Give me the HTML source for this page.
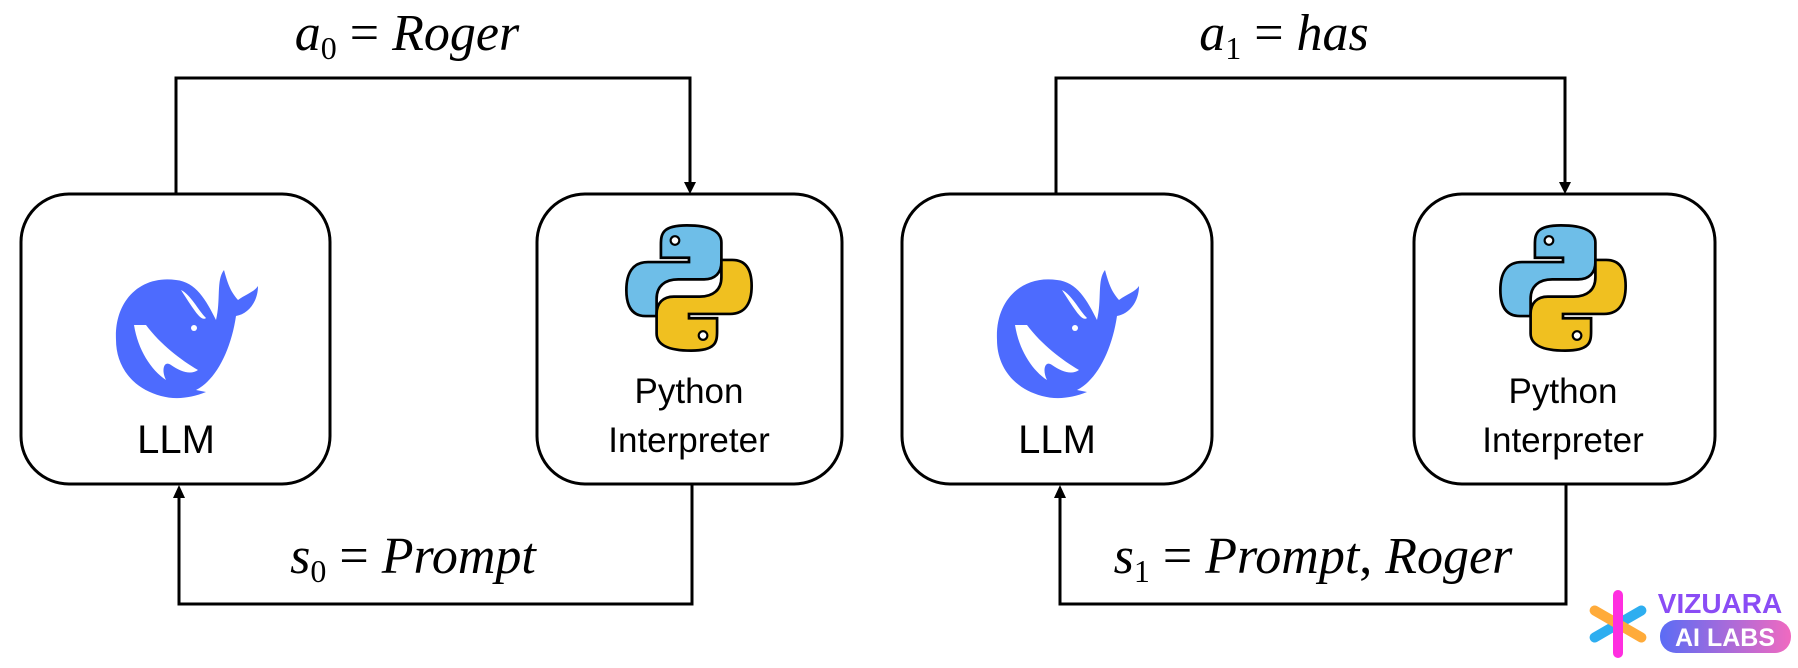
<!DOCTYPE html>
<html><head><meta charset="utf-8"><style>
html,body{margin:0;padding:0;background:#fff;width:1798px;height:668px;overflow:hidden}
</style></head><body>
<svg width="1798" height="668" viewBox="0 0 1798 668" xmlns="http://www.w3.org/2000/svg">
<defs>
<linearGradient id="pill" x1="0" x2="1"><stop offset="0" stop-color="#5b6cf5"/><stop offset="1" stop-color="#f06ac0"/></linearGradient>
<g id="whale">
<path d="M-60,10 C-62,-30 -35,-55 0,-50 C20,-48 30,-30 40,-10 C45,-30 40,-50 48,-60 C52,-45 55,-38 62,-30 C70,-36 78,-38 82,-44 C82,-28 72,-16 60,-14 C55,20 40,50 20,60 L30,62 C15,68 0,70 -15,66 C-45,58 -60,35 -60,10 Z" fill="#4d6bfe"/>
<path d="M-42,-5 C-38,20 -25,40 -10,50 C-15,40 -12,30 -5,35 C5,42 15,45 22,40 C5,30 -15,15 -30,-5 Z" fill="#fff"/>
<path d="M5,-40 C15,-35 22,-20 30,-12 C25,-8 18,-20 5,-40 Z" fill="#fff"/>
<circle cx="18" cy="-2" r="3" fill="#fff"/>
</g>
<g id="py">
<path d="M-2,-58 C-25,-58 -26,-50 -26,-40 L-26,-28 L0,-28 L0,-24 L-38,-24 C-52,-24 -58,-14 -58,2 C-58,18 -52,26 -40,26 L-30,26 L-30,10 C-30,-2 -22,-8 -10,-8 L14,-8 C24,-8 30,-14 30,-24 L30,-42 C30,-52 20,-58 -2,-58 Z" fill="#6ebee8" stroke="#000" stroke-width="2.5"/>
<path d="M2,58 C25,58 26,50 26,40 L26,28 L0,28 L0,24 L38,24 C52,24 58,14 58,-2 C58,-18 52,-26 40,-26 L30,-26 L30,-10 C30,2 22,8 10,8 L-14,8 C-24,8 -30,14 -30,24 L-30,42 C-30,52 -20,58 2,58 Z" fill="#f0c020" stroke="#000" stroke-width="2.5"/>
<circle cx="-13" cy="-44" r="4" fill="#fff" stroke="#000" stroke-width="2"/>
<circle cx="13" cy="44" r="4" fill="#fff" stroke="#000" stroke-width="2"/>
</g>
</defs>
<g fill="none" stroke="#000" stroke-width="3">
<rect x="21" y="194" width="309" height="290" rx="48"/>
<rect x="537" y="194" width="305" height="290" rx="48"/>
<rect x="902" y="194" width="310" height="290" rx="48"/>
<rect x="1414" y="194" width="301" height="290" rx="48"/>
<polyline points="176,194 176,78 690,78 690,184"/>
<polyline points="692,484 692,604 179,604 179,496"/>
<polyline points="1056,194 1056,78 1565,78 1565,184"/>
<polyline points="1566,484 1566,604 1060,604 1060,496"/>
</g>
<g fill="#000">
<polygon points="684,182 696,182 690,194"/>
<polygon points="1559,182 1571,182 1565,194"/>
<polygon points="173,498 185,498 179,485"/>
<polygon points="1054,498 1066,498 1060,485"/>
</g>
<use href="#whale" x="176" y="330"/>
<use href="#whale" x="1057" y="330"/>
<g transform="translate(689,288) scale(1.08)"><use href="#py"/></g>
<g transform="translate(1563,288) scale(1.08)"><use href="#py"/></g>
<g font-family="Liberation Sans, sans-serif" font-size="40" text-anchor="middle" fill="#000">
<text x="176" y="453">LLM</text>
<text x="1057" y="453">LLM</text>
<text x="689" y="403" font-size="35">Python</text>
<text x="689" y="452" font-size="35">Interpreter</text>
<text x="1563" y="403" font-size="35">Python</text>
<text x="1563" y="452" font-size="35">Interpreter</text>
</g>
<g font-family="Liberation Serif, serif" font-size="52" font-style="italic" text-anchor="middle" fill="#000">
<text x="407" y="50">a<tspan font-style="normal" font-size="32" dy="9">0</tspan><tspan font-style="normal" dy="-9"> = </tspan>Roger</text>
<text x="413" y="573">s<tspan font-style="normal" font-size="32" dy="9">0</tspan><tspan font-style="normal" dy="-9"> = </tspan>Prompt</text>
<text x="1284" y="50">a<tspan font-style="normal" font-size="32" dy="9">1</tspan><tspan font-style="normal" dy="-9"> = </tspan>has</text>
<text x="1313" y="573">s<tspan font-style="normal" font-size="32" dy="9">1</tspan><tspan font-style="normal" dy="-9"> = </tspan>Prompt<tspan font-style="normal">, </tspan>Roger</text>
</g>
<g transform="translate(1618,624)">
<rect x="-5" y="-32" width="10" height="64" rx="5" fill="#2eaef0" transform="rotate(60)"/>
<rect x="-5" y="-32" width="10" height="64" rx="5" fill="#ffab3a" transform="rotate(-60)"/>
<rect x="-5" y="-34" width="10" height="68" rx="5" fill="#ff2ee0"/>
</g>
<text x="1720" y="613" font-family="Liberation Sans, sans-serif" font-weight="bold" font-size="28" fill="#8a4cf5" text-anchor="middle">VIZUARA</text>
<rect x="1660" y="620" width="131" height="33" rx="16" fill="url(#pill)"/>
<text x="1725" y="646" font-family="Liberation Sans, sans-serif" font-weight="bold" font-size="25" fill="#fff" text-anchor="middle">AI LABS</text>
</svg>
</body></html>
